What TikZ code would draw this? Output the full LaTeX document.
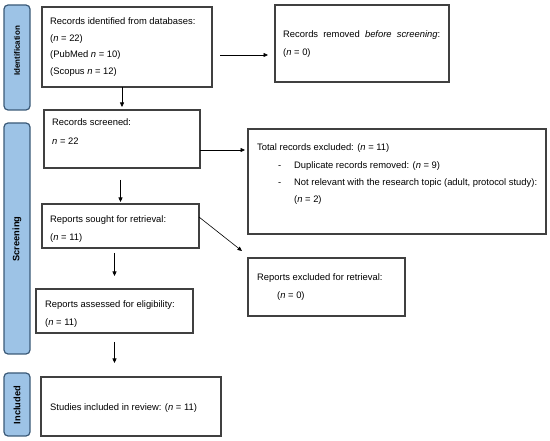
\documentclass[tikz,border=0pt]{standalone}
\usepackage{fontspec}
\setmainfont{Liberation Sans}
\usetikzlibrary{arrows.meta}
\definecolor{sidefill}{HTML}{9DC3E6}
\definecolor{sidedraw}{HTML}{3B5A78}
\definecolor{boxdraw}{HTML}{404040}
\begin{document}
\begin{tikzpicture}[x=1pt,y=-1pt,
 box/.style={draw=boxdraw,line width=1.1pt,inner sep=0pt,outer sep=0pt,anchor=north west},
 side/.style={draw=sidedraw,fill=sidefill,line width=1.2pt,rounded corners=4pt,inner sep=0pt,outer sep=0pt,anchor=north west},
 txt/.style={anchor=base west,inner sep=0pt,font=\fontsize{9.4}{11}\selectfont},
 lab/.style={rotate=90,inner sep=0pt,text=black},
 arr/.style={draw=black,line width=0.6pt,-{Triangle[length=4.5pt,width=4pt]}}]
\useasboundingbox (0,0) rectangle (550,441);

% side bars
\node[side,minimum width=26pt,minimum height=105pt] (s1) at (4,5) {};
\node[side,minimum width=26pt,minimum height=231pt] (s2) at (4,123) {};
\node[side,minimum width=26pt,minimum height=63pt] (s3) at (4,373) {};
\node[lab,font=\bfseries\fontsize{8}{10}\selectfont] (l1) at (17,51) {Identification};
\node[lab,font=\bfseries\fontsize{9.3}{11}\selectfont] (l2) at (17,239) {Screening};
\node[lab,font=\bfseries\fontsize{9.3}{11}\selectfont] (l3) at (17,405) {Included};

% boxes
\node[box,minimum width=170pt,minimum height=80pt] (b1) at (42,7) {};
\node[box,minimum width=174pt,minimum height=77pt] (b2) at (275,5) {};
\node[box,minimum width=156pt,minimum height=58pt] (b3) at (44,110) {};
\node[box,minimum width=298pt,minimum height=105pt] (b4) at (248,129) {};
\node[box,minimum width=157pt,minimum height=44pt] (b5) at (42,204) {};
\node[box,minimum width=157pt,minimum height=58pt] (b6) at (248,258) {};
\node[box,minimum width=157pt,minimum height=44pt] (b7) at (36,289) {};
\node[box,minimum width=180pt,minimum height=59pt] (b8) at (41,377) {};

% texts
\node[txt] (t1a) at (50,25) {Records identified from databases:};
\node[txt] (t1b) at (50,41.5) {(\textit{n} = 22)};
\node[txt] (t1c) at (50,58) {(PubMed \textit{n} = 10)};
\node[txt] (t1d) at (50,74.5) {(Scopus \textit{n} = 12)};

\node[txt] (t2a) at (283,38) {\makebox[157pt][s]{Records removed \textit{before screening}:}};
\node[txt] (t2b) at (283,56) {(\textit{n} = 0)};

\node[txt] (t3a) at (52,126) {Records screened:};
\node[txt] (t3b) at (52,144.5) {\textit{n} = 22};

\node[txt] (t4a) at (257,151) {Total records excluded: (\textit{n} = 11)};
\node[txt] (t4b) at (278,168.5) {-};
\node[txt] (t4c) at (294,168.5) {Duplicate records removed: (\textit{n} = 9)};
\node[txt] (t4d) at (278,185.5) {-};
\node[txt] (t4e) at (294,185.5) {Not relevant with the research topic (adult, protocol study):};
\node[txt] (t4f) at (294,203) {(\textit{n} = 2)};

\node[txt] (t5a) at (50,223) {Reports sought for retrieval:};
\node[txt] (t5b) at (50,240.5) {(\textit{n} = 11)};

\node[txt] (t6a) at (257,281) {Reports excluded for retrieval:};
\node[txt] (t6b) at (277,299) {(\textit{n} = 0)};

\node[txt] (t7a) at (45,308) {Reports assessed for eligibility:};
\node[txt] (t7b) at (45,325.5) {(\textit{n} = 11)};

\node[txt] (t8a) at (50,411) {Studies included in review: (\textit{n} = 11)};

% connectors
\draw[arr,shorten <=8pt,shorten >=7pt] ([yshift=-8pt]b1.east) -- ([yshift=-8pt]b1.east -| b2.west);
\draw[arr,shorten >=3pt] (b3.north |- b1.south) -- (b3.north);
\draw[arr,shorten >=3pt] ([yshift=-11pt]b3.east) -- ([yshift=-11pt]b3.east -| b4.west);
\draw[arr,shorten <=12pt,shorten >=2pt] (b5.north |- b3.south) -- (b5.north);
\draw[arr] ([yshift=9pt]b5.east) -- ([xshift=-6pt,yshift=7pt]b6.north west);
\draw[arr,shorten <=5pt,shorten >=13pt] (b7.north |- b5.south) -- (b7.north);
\draw[arr,shorten <=9pt,shorten >=14pt] (b7.south) -- (b7.south |- b8.north);
\end{tikzpicture}
\end{document}
